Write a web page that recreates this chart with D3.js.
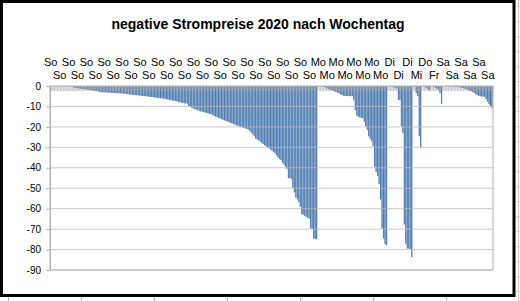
<!DOCTYPE html>
<html>
<head>
<meta charset="utf-8">
<script src="https://cdn.jsdelivr.net/npm/d3@7"></script>
<style>
    body { margin: 0; background: #fff; }
    text { font-family: "Liberation Sans", Arial, sans-serif; fill: #000; }
</style>
</head>
<body>
<svg id="chart" width="520" height="301"></svg>
<script>
// negative Preise je Stunde, innerhalb eines Wochentags sortiert (aus dem Bild geschaetzt)
const sonntag = [-0.01, -0.02, -0.03, -0.04, -0.05, -0.06, -0.08, -0.1, -0.1, -0.12, -0.15, -0.18, -0.2, -0.25, -0.3, -0.5,
    -0.9, -1.0, -1.1, -1.2, -1.3, -1.4, -1.5, -1.6, -1.7, -1.8, -1.9, -2.0, -2.1, -2.3, -2.4, -2.5, -2.7, -2.9,
    -3.0, -3.0, -3.1, -3.1, -3.2, -3.2, -3.3, -3.3, -3.4, -3.4, -3.5, -3.5,
    -3.6, -3.6, -3.7, -3.8, -3.8, -3.9, -4.0, -4.1, -4.2, -4.3, -4.4, -4.5, -4.5, -4.6, -4.7,
    -4.8, -4.9, -5.0, -5.0, -5.1, -5.2, -5.3, -5.4, -5.5, -5.6, -5.7, -5.8, -5.9, -6.0,
    -6.1, -6.2, -6.3, -6.5, -6.6, -6.8, -7.0, -7.1, -7.2, -7.4, -7.6, -7.8, -7.9, -8.1, -8.3, -8.5, -8.6, -8.7,
    -9.8, -10.2, -10.6, -11.0, -11.3, -11.6, -11.9, -12.1, -12.4,
    -12.6, -12.8, -13.0, -13.2, -13.4, -13.6, -13.8,
    -14.2, -14.6, -15.0, -15.3, -15.6,
    -15.9, -16.2, -16.5, -16.8, -17.1, -17.4, -17.7, -18.0,
    -18.3, -18.6, -18.9, -19.2, -19.5, -19.8, -20.0, -20.3, -20.5,
    -20.8, -21.0, -21.3,
    -22.0, -22.8, -23.6, -24.5, -25.8,
    -26.2, -26.6, -27.2, -27.8, -28.4, -29.0, -29.5,
    -30.0, -30.5, -31.0, -31.7, -32.3, -33.0,
    -34.0, -35.0, -35.6, -36.2,
    -37.5, -38.5, -39.5, -40.5, -45.0, -45.2, -45.4, -49.8, -52.0, -54.6,
    -55.5, -57.0, -59.0, -62.7, -63.0, -63.5, -64.0, -64.4, -65.0, -69.7,
    -70.0, -74.6, -74.8, -75.0];
const montag = [-0.05, -0.1, -0.2, -0.3, -0.5, -0.8,
    -1.2, -1.5, -1.8, -2.0, -2.3, -2.6, -2.9, -3.2, -3.6, -4.0,
    -4.4, -4.8, -4.9, -4.9, -4.9, -4.9, -5.0, -5.0,
    -7.0, -11.7, -14.6, -15.0, -15.3, -15.5, -15.7, -17.5, -19.8, -21.5,
    -24.6, -25.8, -27.0, -29.5, -39.5, -42.0, -44.0, -48.0, -55.4, -69.7,
    -74.6, -77.3, -78.0];
const dienstag = [-0.05, -0.1, -0.2, -0.4, -0.7, -1.1, -1.2, -6.8, -7.0, -19.7, -23.0, -67.8, -77.4, -79.5, -79.5, -80.0, -83.7];
const mittwoch = [-0.1, -0.5, -3.5, -5.0, -24.6, -30.0];
const donnerstag = [-0.1, -0.3, -0.6, -1.0, -1.5, -2.0];
const freitag = [-0.1, -0.3, -0.6, -1.0, -1.4, -2.0, -3.5, -8.7];
const samstag = [-0.02, -0.05, -0.08, -0.1, -0.15, -0.2,
    -0.25, -0.3, -0.35, -0.4, -0.5, -0.6, -0.8, -1.0, -1.2, -1.5,
    -1.7, -2.0, -2.3, -2.6, -3.0, -3.3, -4.0, -4.4, -4.8, -5.0,
    -5.1, -5.2, -5.3, -6.5, -7.6, -9.0, -10.0, -10.9];

const tagNamen = ["So", "Mo", "Di", "Mi", "Do", "Fr", "Sa"];
const tagWerte = [sonntag, montag, dienstag, mittwoch, donnerstag, freitag, samstag];
const yTicks = [0, -10, -20, -30, -40, -50, -60, -70, -80, -90];
const title = "negative Strompreise 2020 nach Wochentag";
const labelStep = 6; // nur jede 6. Kategorie wird beschriftet

let categories = [];
for (let t = 0; t < tagNamen.length; t++) {
    for (let k = 0; k < tagWerte[t].length; k++) {
        categories.push({tag: tagNamen[t], wert: tagWerte[t][k]});
    }
}

const plot = {left: 50, right: 493, top: 86, bottom: 270};
let svg = d3.select("#chart");

// Tabellen-Hintergrund rechts und unten
svg.append("line").attr("x1", 518.5).attr("x2", 518.5).attr("y1", 0).attr("y2", 301)
    .attr("stroke", "#c8c8c8");
let rowLines = d3.range(6.7, 301, 15);
svg.append("g").selectAll("line").data(rowLines).enter().append("line")
    .attr("x1", 516).attr("x2", 520).attr("y1", d => d).attr("y2", d => d)
    .attr("stroke", "#d0d0d0");
let colLines = [8.5, 81.5, 154.5, 227.5, 300.5, 373.5, 446.5];
svg.append("g").selectAll("line").data(colLines).enter().append("line")
    .attr("x1", d => d).attr("x2", d => d).attr("y1", 297).attr("y2", 301)
    .attr("stroke", "#b0b0b0");

// Diagrammrahmen
svg.append("rect")
    .attr("x", 1.5).attr("y", 1.5).attr("width", 512.5).attr("height", 294)
    .attr("fill", "#fff").attr("stroke", "#000").attr("stroke-width", 3);

svg.append("text")
    .attr("x", 258).attr("y", 29)
    .attr("text-anchor", "middle")
    .style("font-size", "14px").style("font-weight", "bold")
    .text(title);

let x = d3.scaleBand()
    .domain(d3.range(categories.length))
    .range([plot.left, plot.right])
    .padding(0);
let y = d3.scaleLinear().domain([-90, 0]).range([plot.bottom, plot.top]);

let grad = svg.append("defs").append("linearGradient")
    .attr("id", "barGrad")
    .attr("x1", "0").attr("x2", "1").attr("y1", "0").attr("y2", "0");
grad.append("stop").attr("offset", "0").attr("stop-color", "#1f5594");
grad.append("stop").attr("offset", "1").attr("stop-color", "#a9c4e4");

svg.append("g").selectAll("rect")
    .data(categories)
    .enter()
    .append("rect")
    .attr("x", (d, i) => x(i))
    .attr("width", x.bandwidth())
    .attr("y", y(0))
    .attr("height", d => y(d.wert) - y(0))
    .attr("fill", "url(#barGrad)");

// Gitterlinien (scheinen durch die Balken)
svg.append("g").selectAll("line")
    .data(yTicks.filter(d => d !== 0))
    .enter()
    .append("line")
    .attr("x1", plot.left).attr("x2", plot.right)
    .attr("y1", d => y(d)).attr("y2", d => y(d))
    .attr("stroke", "#b8b8b8")
    .attr("stroke-opacity", 0.75);

// Kategorie-Teilstriche nach innen
svg.append("g").selectAll("line")
    .data(d3.range(categories.length + 1))
    .enter()
    .append("line")
    .attr("x1", i => i < categories.length ? x(i) : plot.right)
    .attr("x2", i => i < categories.length ? x(i) : plot.right)
    .attr("y1", y(0)).attr("y2", y(0) + 5)
    .attr("stroke", "#a8a8a8")
    .attr("stroke-opacity", 0.7);

// Rahmen der Zeichenflaeche
svg.append("rect")
    .attr("x", plot.left).attr("y", plot.top)
    .attr("width", plot.right - plot.left).attr("height", plot.bottom - plot.top)
    .attr("fill", "none").attr("stroke", "#b3b3b3");

let yAxis = svg.append("g")
    .attr("transform", `translate(${plot.left},0)`)
    .call(d3.axisLeft(y).tickValues(yTicks).tickSize(4).tickSizeOuter(0).tickPadding(5)
        .tickFormat(d => String(d)));
yAxis.select(".domain").attr("stroke", "#b3b3b3");
yAxis.selectAll(".tick line").attr("stroke", "#b3b3b3");
yAxis.selectAll(".tick text").style("font-size", "10px").style("font-family", "Liberation Sans, Arial, sans-serif");

// Wochentag-Beschriftung, versetzt in zwei Zeilen
svg.append("g").selectAll("text")
    .data(categories.map((d, i) => ({tag: d.tag, i: i})).filter(d => d.i % labelStep === 0))
    .enter()
    .append("text")
    .attr("x", d => x(d.i) + x.bandwidth() / 2)
    .attr("y", d => (d.i / labelStep) % 2 === 0 ? 65.7 : 79)
    .attr("text-anchor", "middle")
    .style("font-size", "11px")
    .text(d => d.tag);
</script>
</body>
</html>
